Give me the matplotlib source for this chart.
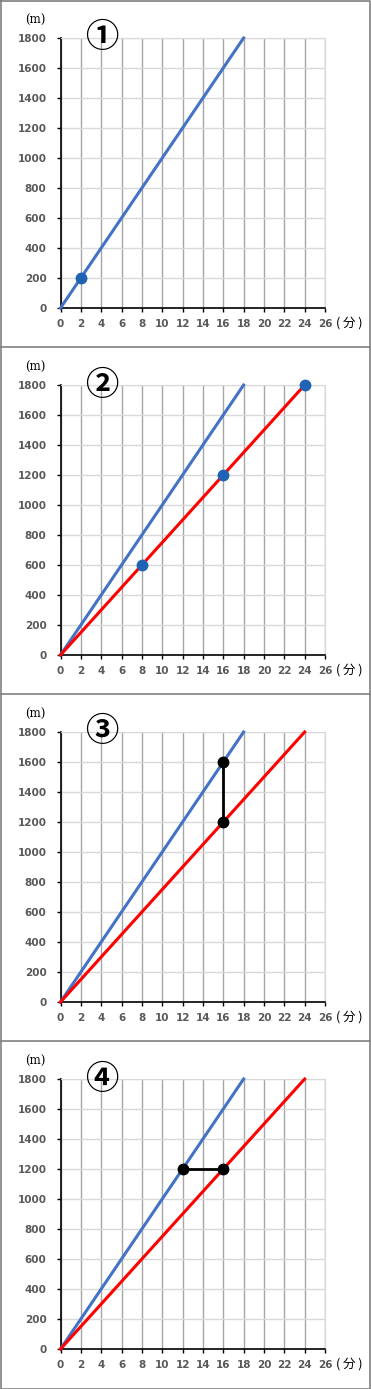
import numpy as np
import matplotlib.pyplot as plt
from matplotlib.lines import Line2D

# data
time_blue = [0, 18]
dist_blue = [0, 1800]
time_red = [0, 24]
dist_red = [0, 1800]

p1_x = [2]
p1_y = [200]
p2_x = [8, 16, 24]
p2_y = [600, 1200, 1800]
p3_x = [16, 16]
p3_y = [1600, 1200]
p4_x = [12, 16]
p4_y = [1200, 1200]

labels = ['①', '②', '③', '④']
xticks = list(range(0, 27, 2))
yticks = list(range(0, 1801, 200))

W, H = 371, 1389
fig = plt.figure(figsize=(W / 100, H / 100), dpi=100)
jp = ['Noto Sans CJK JP', 'DejaVu Sans']

blue = '#4472C4'
red = '#FF0000'
dot = '#1F64B4'
tick_col = '#595959'

panel_h = 347
for i in range(4):
    top = 38 + panel_h * i
    bot = 308 + panel_h * i
    ax = fig.add_axes([60.5 / W, 1 - bot / H, (325 - 60.5) / W, (bot - top) / H])
    ax.set_xlim(0, 26)
    ax.set_ylim(0, 1800)
    ax.set_xticks(xticks)
    ax.set_yticks(yticks)
    ax.grid(axis='x', color='#a6a6a6', lw=1)
    ax.grid(axis='y', color='#d9d9d9', lw=1)
    ax.set_axisbelow(True)
    for s in ['top', 'right']:
        ax.spines[s].set_color('#d9d9d9')
    for s in ['left', 'bottom']:
        ax.spines[s].set_color('black')
        ax.spines[s].set_linewidth(1.2)
    ax.tick_params(length=3, width=1, colors='black', labelcolor=tick_col,
                   labelsize=7.5)
    ax.tick_params(axis='y', pad=7)
    ax.tick_params(axis='x', pad=5)
    for t in ax.get_xticklabels() + ax.get_yticklabels():
        t.set_fontweight('semibold')

    ax.plot(time_blue, dist_blue, color=blue, lw=2.2, clip_on=False, zorder=3)
    if i > 0:
        ax.plot(time_red, dist_red, color=red, lw=2.2, clip_on=False, zorder=3)

    if i == 0:
        ax.plot(p1_x, p1_y, 'o', color=dot, ms=7.5, zorder=4)
    elif i == 1:
        ax.plot(p2_x, p2_y, 'o', color=dot, ms=7.5, zorder=4, clip_on=False)
    elif i == 2:
        ax.plot(p3_x, p3_y, '-o', color='black', lw=2, ms=7.5, zorder=4)
    else:
        ax.plot(p4_x, p4_y, '-o', color='black', lw=2, ms=7.5, zorder=4)

    fig.text(35 / W, 1 - (20 + panel_h * i) / H, '(m)', family='DejaVu Serif',
             fontsize=8.5, ha='center', va='center')
    fig.text(336 / W, 1 - (323 + panel_h * i) / H, '( 分 )', family=jp,
             fontsize=9, ha='left', va='center')
    fig.text(102 / W, 1 - (38 + panel_h * i) / H, labels[i], family=jp,
             fontsize=24, fontweight='bold', ha='center', va='center')

# panel borders
for yb in [347, 694, 1041]:
    fig.add_artist(Line2D([0, 1], [1 - yb / H, 1 - yb / H], color='#808080', lw=1.2))
fig.add_artist(Line2D([0.5 / W, 0.5 / W, (W - 1) / W, (W - 1) / W, 0.5 / W],
                      [1 - 0.5 / H, 0.5 / H, 0.5 / H, 1 - 0.5 / H, 1 - 0.5 / H],
                      color='#808080', lw=1.2))

fig.savefig('out.png', dpi=100)
